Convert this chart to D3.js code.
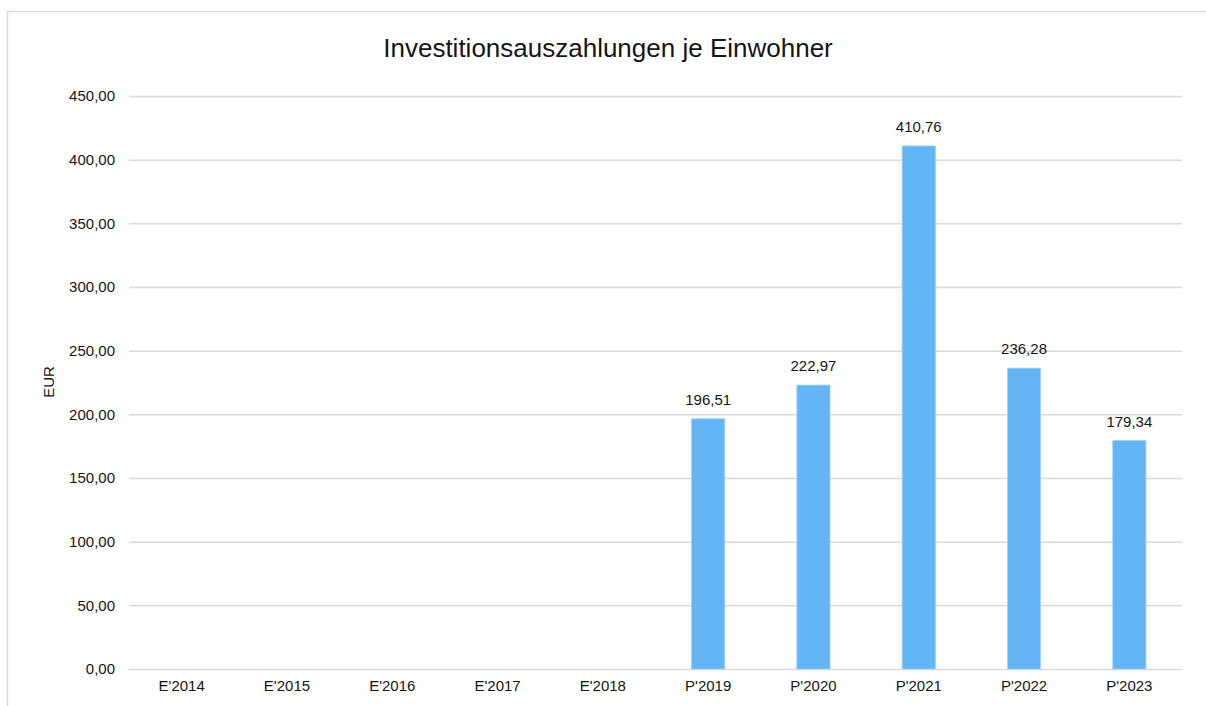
<!DOCTYPE html>
<html><head><meta charset="utf-8">
<script src="https://cdn.jsdelivr.net/npm/d3@7/dist/d3.min.js"></script>
<style>body{margin:0;background:#fff;} svg{display:block;font-family:"Liberation Sans",Arial,sans-serif;}</style>
</head><body>
<svg id="c" width="1206" height="706"></svg>
<script>
const categories = ["E'2014","E'2015","E'2016","E'2017","E'2018","P'2019","P'2020","P'2021","P'2022","P'2023"];
const values = [null,null,null,null,null,196.51,222.97,410.76,236.28,179.34];
const yTicks = [0,50,100,150,200,250,300,350,400,450];
const title = "Investitionsauszahlungen je Einwohner";
const yTitle = "EUR";

(function(){
const svg = d3.select("#c");
const fmt = v => d3.format(".2f")(v).replace(".", ",");
const fs = 15, tc = "#151515";

svg.append("rect").attr("x",7.5).attr("y",11.5).attr("width",1220).attr("height",720)
  .attr("fill","#fff").attr("stroke","#d9d9d9").attr("stroke-width",1.5);

const pl = 129, pr = 1182, pt = 96, pb = 669;
const x = d3.scaleBand().domain(categories).range([pl,pr]).paddingInner(0).paddingOuter(0);
const y = d3.scaleLinear().domain([0,450]).range([pb,pt]);

const yAxis = svg.append("g").attr("transform",`translate(${pl},0)`)
  .call(d3.axisLeft(y).tickValues(yTicks).tickSize(-(pr-pl)).tickPadding(14).tickFormat(fmt));
yAxis.select(".domain").remove();
yAxis.selectAll(".tick line").attr("stroke","#d9d9d9").attr("stroke-width",1.5);
yAxis.selectAll(".tick text").attr("font-size",fs).attr("fill",tc).attr("font-family","Liberation Sans, Arial, sans-serif");

const xAxis = svg.append("g").attr("transform",`translate(0,${pb})`)
  .call(d3.axisBottom(x).tickSize(0).tickPadding(11));
xAxis.select(".domain").remove();
xAxis.selectAll(".tick text").attr("font-size",fs).attr("fill",tc).attr("font-family","Liberation Sans, Arial, sans-serif");

const bw = x.bandwidth()*0.315;
const data = categories.map((c,i)=>({c, v: values[i]})).filter(d=>d.v!=null);
svg.append("g").selectAll("rect").data(data).join("rect")
  .attr("x",d=>x(d.c)+x.bandwidth()/2-bw/2)
  .attr("y",d=>y(d.v))
  .attr("width",bw)
  .attr("height",d=>y(0)-y(d.v))
  .attr("fill","#64b5f6")
  .attr("stroke","#9fd0fa").attr("stroke-width",0.8);

svg.append("g").selectAll("text").data(data).join("text")
  .attr("x",d=>x(d.c)+x.bandwidth()/2)
  .attr("y",d=>y(d.v)-14)
  .attr("text-anchor","middle").attr("font-size",fs).attr("fill",tc)
  .text(d=>fmt(d.v));

svg.append("text").attr("x",608).attr("y",57).attr("text-anchor","middle")
  .attr("font-size",26).attr("fill",tc).text(title);

svg.append("text").attr("transform","translate(54,382) rotate(-90)")
  .attr("text-anchor","middle").attr("font-size",fs).attr("fill",tc).text(yTitle);
})();
</script>
</body></html>
